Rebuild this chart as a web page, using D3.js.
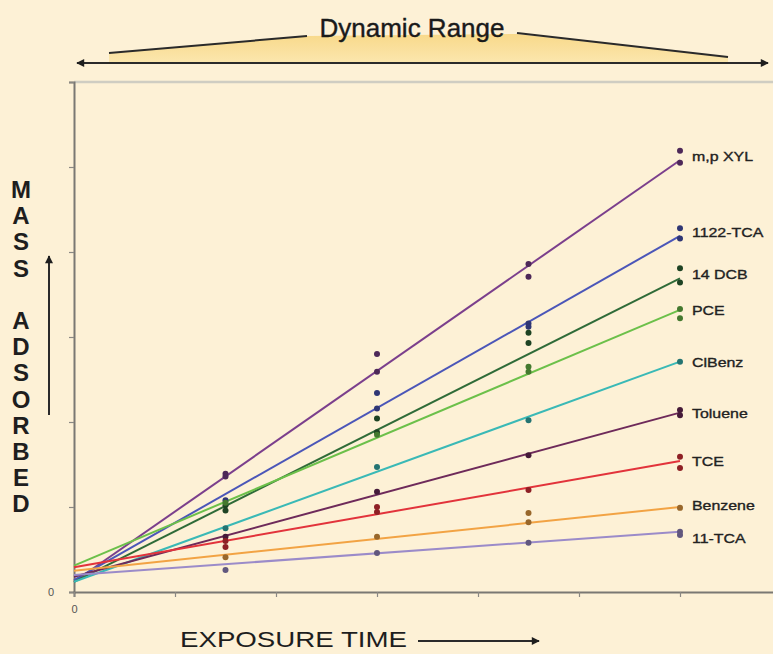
<!DOCTYPE html>
<html>
<head>
<meta charset="utf-8">
<script src="https://d3js.org/d3.v7.min.js"></script>
<style>
  body { margin: 0; background: #fdf1d6; }
  svg { display: block; font-family: "Liberation Sans", Arial, sans-serif; }
</style>
</head>
<body>
<svg id="chart" width="773" height="654"></svg>
<script>

// compounds, top to bottom as labelled on the right
const compounds = ["m,p XYL", "1122-TCA", "14 DCB", "PCE", "ClBenz", "Toluene", "TCE", "Benzene", "11-TCA"];
const lineColors = ["#7b3f8c", "#4b56b8", "#2f6b38", "#6cc04a", "#3ab9b6", "#6e2a5a", "#e2333b", "#f2a344", "#9b8bc9"];

// sampling times (x units)
const times = [1.5, 3, 4.5, 6];

// measured masses at each time, duplicates where two dots sit on one time
const measured = [
  [[1.39, 1.36], [2.80, 2.59], [3.86, 3.71], [5.19, 5.05]],
  [[1.08], [2.34, 2.16], [3.16, 3.12], [4.28, 4.16]],
  [[1.02, 0.96], [2.04, 1.88], [3.05, 2.93], [3.81, 3.64]],
  [[1.05], [1.85], [2.65, 2.59], [3.33, 3.22]],
  [[0.75], [1.47], [2.02], [2.71]],
  [[0.65], [1.18], [1.61], [2.14, 2.08]],
  [[0.60, 0.53], [1.00, 0.94], [1.20], [1.59, 1.46]],
  [[0.41], [0.65], [0.93, 0.82], [0.99]],
  [[0.26], [0.46], [0.58], [0.71, 0.67]]
];

// fitted line values at t = 0 and t = 6
const fitStart = [0.12, 0.14, 0.12, 0.31, 0.12, 0.18, 0.29, 0.25, 0.20];
const fitEnd = [5.08, 4.19, 3.69, 3.32, 2.71, 2.11, 1.54, 1.00, 0.71];

const xTicks = [0, 1, 2, 3, 4, 5, 6, 7];
const yTicks = [0, 1, 2, 3, 4, 5, 6];

const svg = d3.select("#chart");

const x = d3.scaleLinear().domain([0, 7]).range([74, 781]);
const y = d3.scaleLinear().domain([0, 6]).range([592, 82]);

// ---- Dynamic Range banner ----
const defs = svg.append("defs");
defs.append("marker")
    .attr("id", "head")
    .attr("viewBox", "0 0 10 10")
    .attr("refX", 9).attr("refY", 5)
    .attr("markerWidth", 11).attr("markerHeight", 8)
    .attr("markerUnits", "userSpaceOnUse")
    .attr("orient", "auto-start-reverse")
    .append("path").attr("d", "M0,0 L10,5 L0,10 Z").attr("fill", "#1e1e1e");

const grad = defs.append("linearGradient").attr("id", "fillGrad")
    .attr("x1", 0).attr("x2", 0).attr("y1", 0).attr("y2", 1);
grad.append("stop").attr("offset", "0%").attr("stop-color", "#f8d98a");
grad.append("stop").attr("offset", "100%").attr("stop-color", "#fbe6ad");

const banner = svg.append("g");
banner.append("path")
    .attr("d", "M109,53 L307,36 L517,34 L728,57 L728,62 L109,62 Z")
    .attr("fill", "url(#fillGrad)");
banner.append("path").attr("d", "M109,53 L307,36").attr("stroke", "#2a2a2a").attr("stroke-width", 2);
banner.append("path").attr("d", "M517,33 L728,57").attr("stroke", "#2a2a2a").attr("stroke-width", 2);
banner.append("line")
    .attr("x1", 77).attr("x2", 768).attr("y1", 63).attr("y2", 63)
    .attr("stroke", "#2a2a2a").attr("stroke-width", 2)
    .attr("marker-start", "url(#head)").attr("marker-end", "url(#head)");
banner.append("text")
    .attr("x", 412).attr("y", 37)
    .attr("text-anchor", "middle")
    .attr("font-size", 26)
    .attr("fill", "#1a1a1a")
    .attr("stroke", "#1a1a1a").attr("stroke-width", 0.4)
    .text("Dynamic Range");

// ---- frame and axes ----
svg.append("line")
    .attr("x1", 74).attr("x2", 773).attr("y1", y(6)).attr("y2", y(6))
    .attr("stroke", "#cfcdc2").attr("stroke-width", 2.5);

const yAxis = svg.append("g")
    .attr("transform", `translate(${x(0)},0)`)
    .call(d3.axisLeft(y).tickValues(yTicks).tickSize(5).tickFormat(d => d === 0 ? "0" : ""));

const xAxis = svg.append("g")
    .attr("transform", `translate(0,${y(0)})`)
    .call(d3.axisBottom(x).tickValues(xTicks).tickSize(5).tickFormat(d => d === 0 ? "0" : ""));

[yAxis, xAxis].forEach(ax => {
  ax.select(".domain").attr("stroke", "#7a7873").attr("stroke-width", 2);
  ax.selectAll(".tick line").attr("stroke", "#8a8883").attr("stroke-width", 1.2);
  ax.selectAll(".tick text").attr("fill", "#555").attr("font-size", 11)
    .attr("font-family", "Liberation Sans, Arial, sans-serif");
});
yAxis.selectAll(".tick text").attr("x", -20);
xAxis.selectAll(".tick text").attr("y", 13);

// ---- fitted lines ----
const plot = svg.append("g");
const line = d3.line().x(d => x(d[0])).y(d => y(d[1]));

plot.selectAll("path.fit")
    .data(compounds)
    .join("path")
    .attr("class", "fit")
    .attr("fill", "none")
    .attr("stroke", (d, i) => lineColors[i])
    .attr("stroke-width", 2)
    .attr("d", (d, i) => line([[0, fitStart[i]], [6, fitEnd[i]]]));

// ---- measured dots ----
const dots = [];
measured.forEach((rows, i) => {
  rows.forEach((vals, j) => {
    vals.forEach(v => dots.push({ c: i, t: times[j], v: v }));
  });
});

plot.selectAll("circle.dot")
    .data(dots)
    .join("circle")
    .attr("class", "dot")
    .attr("cx", d => x(d.t))
    .attr("cy", d => y(d.v))
    .attr("r", 3)
    .attr("fill", d => d3.color(lineColors[d.c]).darker(1.3));

// ---- labels ----
const nudge = { "m,p XYL": -4, "1122-TCA": -4, "14 DCB": -4, "Benzene": -2, "11-TCA": 6 };
plot.selectAll("text.lab")
    .data(compounds)
    .join("text")
    .attr("class", "lab")
    .attr("transform", (d, i) => `translate(692,${y(fitEnd[i]) + (nudge[d] || 0) + 5}) scale(1.18,1)`)
    .attr("font-size", 13.5)
    .attr("fill", "#222")
    .attr("stroke", "#222").attr("stroke-width", 0.35)
    .text(d => d);

// ---- axis titles ----
const yTitle = "MASS ADSORBED".split("");
svg.append("g").selectAll("text")
    .data(yTitle)
    .join("text")
    .attr("x", 21)
    .attr("y", (d, i) => 198 + i * 26.2)
    .attr("text-anchor", "middle")
    .attr("font-size", 24)
    .attr("font-weight", "bold")
    .attr("fill", "#1e1e1e")
    .text(d => d);

svg.append("line")
    .attr("x1", 49).attr("x2", 49).attr("y1", 415).attr("y2", 256)
    .attr("stroke", "#2a2a2a").attr("stroke-width", 2)
    .attr("marker-end", "url(#head)");

svg.append("text")
    .attr("x", 180).attr("y", 647)
    .attr("font-size", 22)
    .attr("textLength", 227)
    .attr("lengthAdjust", "spacingAndGlyphs")
    .attr("fill", "#1e1e1e")
    .text("EXPOSURE TIME");

svg.append("line")
    .attr("x1", 418).attr("x2", 539).attr("y1", 641).attr("y2", 641)
    .attr("stroke", "#2a2a2a").attr("stroke-width", 1.8)
    .attr("marker-end", "url(#head)");

</script>
</body>
</html>
